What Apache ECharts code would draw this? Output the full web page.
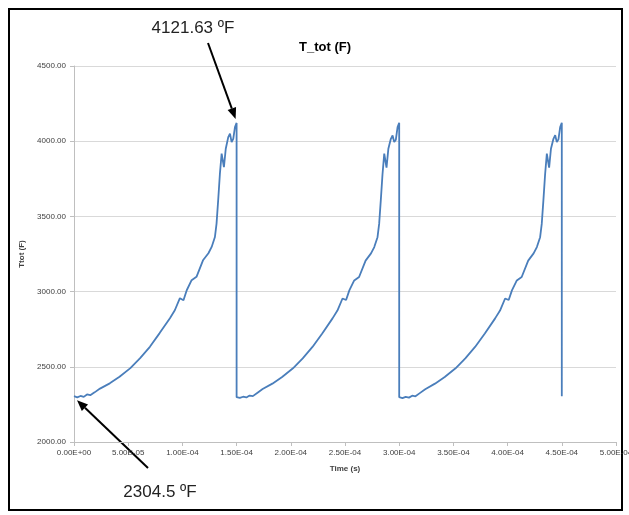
<!DOCTYPE html>
<html><head><meta charset="utf-8">
<script src="https://cdn.jsdelivr.net/npm/echarts@6/dist/echarts.min.js"></script>
<style>html,body{margin:0;padding:0;background:#fff}#c{width:629px;height:515px}</style>
</head><body><div id="c"></div>
<script>
// time in units of 1e-5 s, temperature in F
const cycle1Time = [0,0.3,0.6,0.9,1.2,1.5,1.9,2.4,3.3,4.2,5.2,6.1,7.0,7.9,8.85,9.3,9.77,10.1,10.4,10.85,11.3,11.9,12.4,12.7,13.0,13.15,13.3,13.46,13.62,13.83,14.0,14.23,14.39,14.54,14.69,14.85,15.0];
const cycle1Temp = [2304.5,2297,2306,2300,2316,2311,2330,2355,2390,2434,2491,2558,2633,2724,2823,2876,2956,2943,3009,3076,3098,3208,3255,3297,3363,3452,3607,3784,3917,3828,3950,4027,4050,3994,4016,4094,4121.63];
const cycle2Time = [15.0,15.3,15.6,15.9,16.2,16.5,16.9,17.4,18.3,19.2,20.2,21.1,22.0,22.9,23.85,24.3,24.77,25.1,25.4,25.85,26.3,26.9,27.4,27.7,28.0,28.15,28.3,28.46,28.62,28.83,29.0,29.23,29.39,29.54,29.69,29.85,30.0];
const cycle2Temp = [2298,2293,2301,2296,2309,2305,2326,2352,2388,2432,2490,2556,2632,2722,2822,2874,2954,2944,3008,3074,3097,3206,3254,3296,3362,3450,3605,3780,3917,3824,3950,4016,4038,3994,4010,4094,4123];
const cycle3Time = [30.0,30.3,30.6,30.9,31.2,31.5,31.9,32.4,33.3,34.2,35.2,36.1,37.0,37.9,38.85,39.3,39.77,40.1,40.4,40.85,41.3,41.9,42.4,42.7,43.0,43.15,43.3,43.46,43.62,43.83,44.0,44.23,44.39,44.54,44.69,44.85,45.0,45.0];
const cycle3Temp = [2298,2292,2300,2295,2308,2304,2325,2351,2388,2432,2490,2556,2632,2722,2822,2874,2954,2944,3008,3074,3097,3206,3254,3296,3362,3450,3605,3780,3917,3824,3950,4016,4040,3994,4012,4094,4123,2305];
const yTicks = [2000, 2500, 3000, 3500, 4000, 4500];
const peakLabel = '4121.63 ºF';
const startLabel = '2304.5 ºF';

const data = [];
[[cycle1Time, cycle1Temp],[cycle2Time, cycle2Temp],[cycle3Time, cycle3Temp]].forEach(([t, v]) => {
  t.forEach((x, i) => data.push([x * 1e-5, v[i]]));
});

function fmtE(v) {
  if (Math.abs(v) < 1e-12) return '0.00E+00';
  let s = v.toExponential(2).toUpperCase();
  let [m, e] = s.split('E');
  let sign = e[0] === '-' ? '-' : '+';
  let n = e.replace(/[+-]/, '');
  if (n.length < 2) n = '0' + n;
  return m + 'E' + sign + n;
}

const chart = echarts.init(document.getElementById('c'), null, {renderer: 'canvas'});
const FONT = '"Liberation Sans", Arial, sans-serif';
chart.setOption({
  animation: false,
  grid: {left: 74, right: 13, top: 66, bottom: 73, containLabel: false, outerBoundsMode: 'none'},
  xAxis: {
    type: 'value', min: 0, max: 5e-4, interval: 5e-5,
    name: 'Time (s)', nameLocation: 'middle', nameGap: 23,
    nameTextStyle: {fontFamily: FONT, fontSize: 8, fontWeight: 'bold', color: '#404040'},
    axisLine: {show: true, lineStyle: {color: '#bfbfbf'}},
    axisTick: {show: true, length: 4, lineStyle: {color: '#bfbfbf'}},
    axisLabel: {fontFamily: FONT, fontSize: 8, color: '#404040', margin: 7, formatter: fmtE},
    splitLine: {show: false}
  },
  yAxis: {
    type: 'value', min: yTicks[0], max: yTicks[yTicks.length-1], interval: 500,
    name: 'Ttot (F)', nameLocation: 'middle', nameGap: 42, nameRotate: 90,
    nameTextStyle: {fontFamily: FONT, fontSize: 8, fontWeight: 'bold', color: '#404040'},
    axisLine: {show: true, lineStyle: {color: '#bfbfbf'}},
    axisTick: {show: true, length: 4, lineStyle: {color: '#bfbfbf'}},
    axisLabel: {fontFamily: FONT, fontSize: 8, color: '#404040', margin: 8, formatter: v => v.toFixed(2)},
    splitLine: {show: true, lineStyle: {color: '#d9d9d9', width: 1}}
  },
  series: [{
    type: 'line', data: data, showSymbol: false, symbol: 'none',
    lineStyle: {color: '#4a7ebb', width: 1.8}
  }]
});

const peak = chart.convertToPixel({gridIndex: 0}, [cycle1Time[cycle1Time.length-1]*1e-5, cycle1Temp[cycle1Temp.length-1]]);
const start = chart.convertToPixel({gridIndex: 0}, [cycle1Time[0]*1e-5, cycle1Temp[0]]);

function arrow(x1, y1, x2, y2) {
  const ang = Math.atan2(y2 - y1, x2 - x1);
  const L = 11, W = 4.5;
  const bx = x2 - L * Math.cos(ang), by = y2 - L * Math.sin(ang);
  const px = -Math.sin(ang) * W, py = Math.cos(ang) * W;
  return [
    {type: 'line', shape: {x1: x1, y1: y1, x2: bx, y2: by}, style: {stroke: '#000', lineWidth: 2}},
    {type: 'polygon', shape: {points: [[x2, y2], [bx + px, by + py], [bx - px, by - py]]}, style: {fill: '#000'}}
  ];
}

const tip1 = [peak[0] - 1, peak[1] - 4];
const tip2 = [start[0] + 3, start[1] + 4];
chart.setOption({
  graphic: [
    {type: 'rect', shape: {x: 9, y: 9, width: 613, height: 501}, style: {fill: 'none', stroke: '#000', lineWidth: 2}},
    {type: 'text', x: 325, y: 47, style: {text: 'T_tot (F)', font: 'bold 13px ' + FONT, fill: '#000', align: 'center', verticalAlign: 'middle'}},
    {type: 'text', x: 193, y: 28, style: {text: peakLabel, font: '17px ' + FONT, fill: '#222', align: 'center', verticalAlign: 'middle'}},
    {type: 'text', x: 160, y: 492, style: {text: startLabel, font: '17px ' + FONT, fill: '#222', align: 'center', verticalAlign: 'middle'}},
    ...arrow(208, 43, tip1[0], tip1[1]),
    ...arrow(148, 468, tip2[0], tip2[1])
  ]
});
</script></body></html>
